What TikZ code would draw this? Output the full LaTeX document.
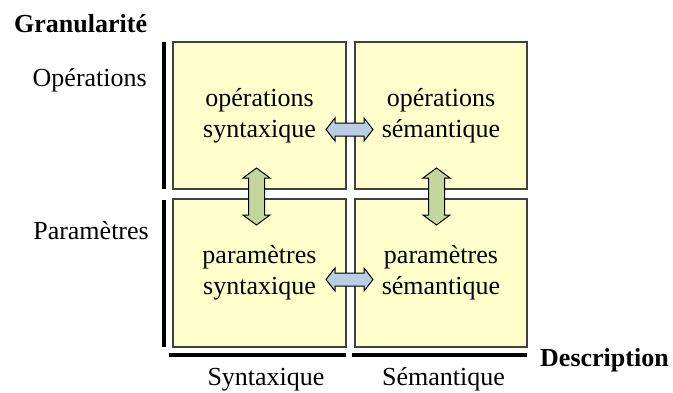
\documentclass[tikz,border=0pt]{standalone}
\usepackage{fontspec}
\setmainfont{Liberation Serif}
\definecolor{boxfill}{HTML}{FFFFCC}
\definecolor{boxline}{HTML}{404040}
\definecolor{blueArrow}{HTML}{B9CDE5}
\definecolor{greenArrow}{HTML}{C3D69B}
\begin{document}
\begin{tikzpicture}[x=1pt,y=-1pt,
  cell/.style={rectangle,draw=boxline,line width=1.4pt,fill=boxfill,align=center,
    font=\fontsize{26}{31}\selectfont,inner sep=0pt},
  lab/.style={font=\fontsize{26}{31}\selectfont,inner sep=0pt},
  blab/.style={font=\fontsize{26}{31}\selectfont\bfseries,inner sep=0pt},
  axis/.style={line width=4pt,black},
  barrow/.style={draw=black,line width=1pt,fill=blueArrow,line join=miter},
  garrow/.style={draw=black,line width=1pt,fill=greenArrow,line join=miter}]
\useasboundingbox (0,0) rectangle (673,392);
% cells
\node[cell,minimum width=173pt,minimum height=147pt] (os) at (259.5,115.5) {opérations\\syntaxique};
\node[cell,minimum width=172pt,minimum height=147pt] (osem) at (441,115.5) {opérations\\sémantique};
\node[cell,minimum width=173pt,minimum height=148pt] (ps) at (259.5,273) {paramètres\\syntaxique};
\node[cell,minimum width=172pt,minimum height=148pt] (psem) at (441,273) {paramètres\\sémantique};
% axis bars
\coordinate (v1a) at (164,42); \coordinate (v1b) at (164,189);
\coordinate (v2a) at (164,200); \coordinate (v2b) at (164,347);
\coordinate (h1a) at (169,355); \coordinate (h1b) at (346,355);
\coordinate (h2a) at (352,355); \coordinate (h2b) at (527,355);
\draw[axis] (v1a) -- (v1b);
\draw[axis] (v2a) -- (v2b);
\draw[axis] (h1a) -- (h1b);
\draw[axis] (h2a) -- (h2b);
% labels
\node[blab,anchor=base west] (gran) at (14,32) {Granularité};
\node[lab,anchor=base east] (lop) at (147,86) {Opérations};
\node[lab,anchor=base east] (lpar) at (149,239) {Paramètres};
\node[lab,anchor=base] (lsyn) at (266,385) {Syntaxique};
\node[lab,anchor=base] (lsem) at (443.5,385) {Sémantique};
\node[blab,anchor=base west] (desc) at (540,366) {Description};
% block arrows
\coordinate (a1) at (349.5,129.5);
\coordinate (a2) at (349.5,279.5);
\coordinate (a3) at (256.5,196.5);
\coordinate (a4) at (436.5,196.5);
\foreach \c in {a1,a2}{
  \begin{scope}[shift={(\c)}]
  \draw[barrow] (-23.5,0) -- (-14.5,-11.5) -- (-14.5,-6.5) -- (14.5,-6.5) -- (14.5,-11.5) -- (23.5,0) -- (14.5,11.5) -- (14.5,6.5) -- (-14.5,6.5) -- (-14.5,11.5) -- cycle;
  \end{scope}}
\foreach \c in {a3,a4}{
  \begin{scope}[shift={(\c)}]
  \draw[garrow] (0,-28.5) -- (13.5,-18.5) -- (8,-18.5) -- (8,18.5) -- (13.5,18.5) -- (0,28.5) -- (-13.5,18.5) -- (-8,18.5) -- (-8,-18.5) -- (-13.5,-18.5) -- cycle;
  \end{scope}}
\end{tikzpicture}
\end{document}
